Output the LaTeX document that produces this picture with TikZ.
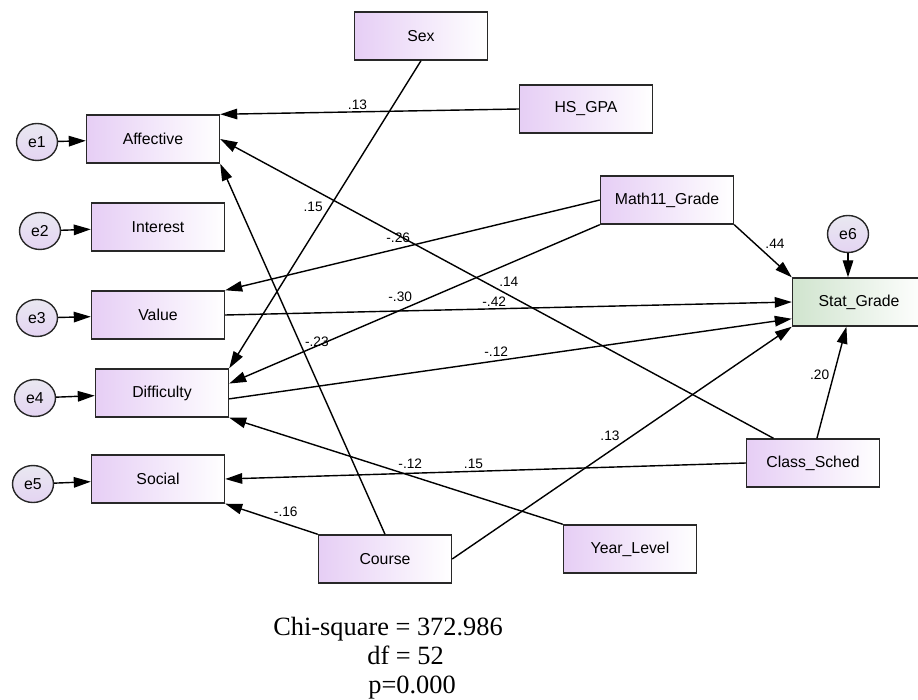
\documentclass[tikz,border=0pt]{standalone}
\usepackage{fontspec}
\setmainfont{Liberation Serif}
\setsansfont{Liberation Sans}
\usetikzlibrary{arrows.meta,shapes.geometric}
\definecolor{varfill}{RGB}{230,206,245}
\definecolor{outfill}{RGB}{208,228,206}
\definecolor{errtop}{RGB}{233,232,241}
\definecolor{errbot}{RGB}{228,212,242}
\definecolor{edgegray}{RGB}{40,40,40}

\begin{document}
\begin{tikzpicture}[x=0.2mm, y=-0.2mm,
		var/.style={rectangle, draw=edgegray, line width=0.8pt, left color=varfill, right color=white, minimum width=26.6mm, minimum height=9.6mm, font=\sffamily\fontsize{9}{10}\selectfont},
		err/.style={ellipse, draw=edgegray, line width=0.8pt, top color=errtop, bottom color=errbot, minimum width=8.2mm, minimum height=7.4mm, inner sep=0pt, font=\sffamily\fontsize{9}{10}\selectfont},
		reg/.style={-{Triangle[length=3.4mm, width=2.1mm]}, line width=0.8pt},
		coef/.style={font=\sffamily\fontsize{7.8}{8}\selectfont, inner sep=1pt},
		fitstat/.style={font=\fontsize{15}{18}\selectfont, inner sep=0pt}]
			\useasboundingbox (0,0) rectangle (918,700);
			% observed variables
			\node[var](sex) at (421,36){Sex};
			\node[var](hsgpa) at (586,109){HS\_GPA};
			\node[var](aff) at (153,139){Affective};
			\node[var](inter) at (158,227){Interest};
			\node[var](val) at (158,315){Value};
			\node[var](diff) at (162,393){Difficulty};
			\node[var](soc) at (158,479){Social};
			\node[var](course) at (385,559){Course};
			\node[var](math) at (667,200){Math11\_Grade};
			\node[var](sched) at (813,463){Class\_Sched};
			\node[var](year) at (630,549){Year\_Level};
			\node[var, left color=outfill](stat) at (859,302){Stat\_Grade};
			% error terms
			\node[err](e1) at (37,142){e1};
			\node[err](e2) at (40,231){e2};
			\node[err](e3) at (37,318){e3};
			\node[err](e4) at (35,398){e4};
			\node[err](e5) at (33,484){e5};
			\node[err](e6) at (848,234){e6};
			\draw[reg] (e1) -- (aff);
			\draw[reg] (e2) -- (inter);
			\draw[reg] (e3) -- (val);
			\draw[reg] (e4) -- (diff);
			\draw[reg] (e5) -- (soc);
			\draw[reg] (e6) -- (e6 |- stat.north);
			% regression paths
			\draw[reg] (hsgpa.west) -- (aff.north east) node[coef, midway, above left]{.13};
			\draw[reg] (sex.south) -- (diff.north east) node[coef, midway, above left]{.15};
			\draw[reg] (sched.148) -- (aff.east) node[coef, midway, above right]{.14};
			\draw[reg] (course.north) -- (aff.south east) node[coef, midway, above right]{-.23};
			\draw[reg] (math.west) -- (val.north east) node[coef, midway, above left]{-.26};
			\draw[reg] (math.south west) -- (diff.8) node[coef, midway, above left]{-.30};
			\draw[reg] (math.south east) -- (stat.north west) node[coef, midway, above right]{.44};
			\draw[reg] (val.east) -- (stat.west) node[coef, midway, above left]{-.42};
			\draw[reg] (diff.-5) -- (stat.194) node[coef, midway, above left]{-.12};
			\draw[reg] (course.east) -- (stat.south west) node[coef, midway, above left]{.13};
			\draw[reg] (sched.81) -- (stat.243) node[coef, midway, above left]{.20};
			\draw[reg] (sched.west) -- (soc.east) node[coef, midway, above left]{.15};
			\draw[reg] (year.north west) -- (diff.south east) node[coef, midway, above right]{-.12};
			\draw[reg] (course.north west) -- (soc.south east) node[coef, midway, above right]{-.16};
			% fit
			\node[fitstat, anchor=base](chi) at (388,635){Chi-square = 372.986};
			\node[fitstat, anchor=base west](df) at (367,664){df = 52};
			\node[fitstat, anchor=base west](pval) at (368,693){p=0.000};
			\end{tikzpicture}
\end{document}
